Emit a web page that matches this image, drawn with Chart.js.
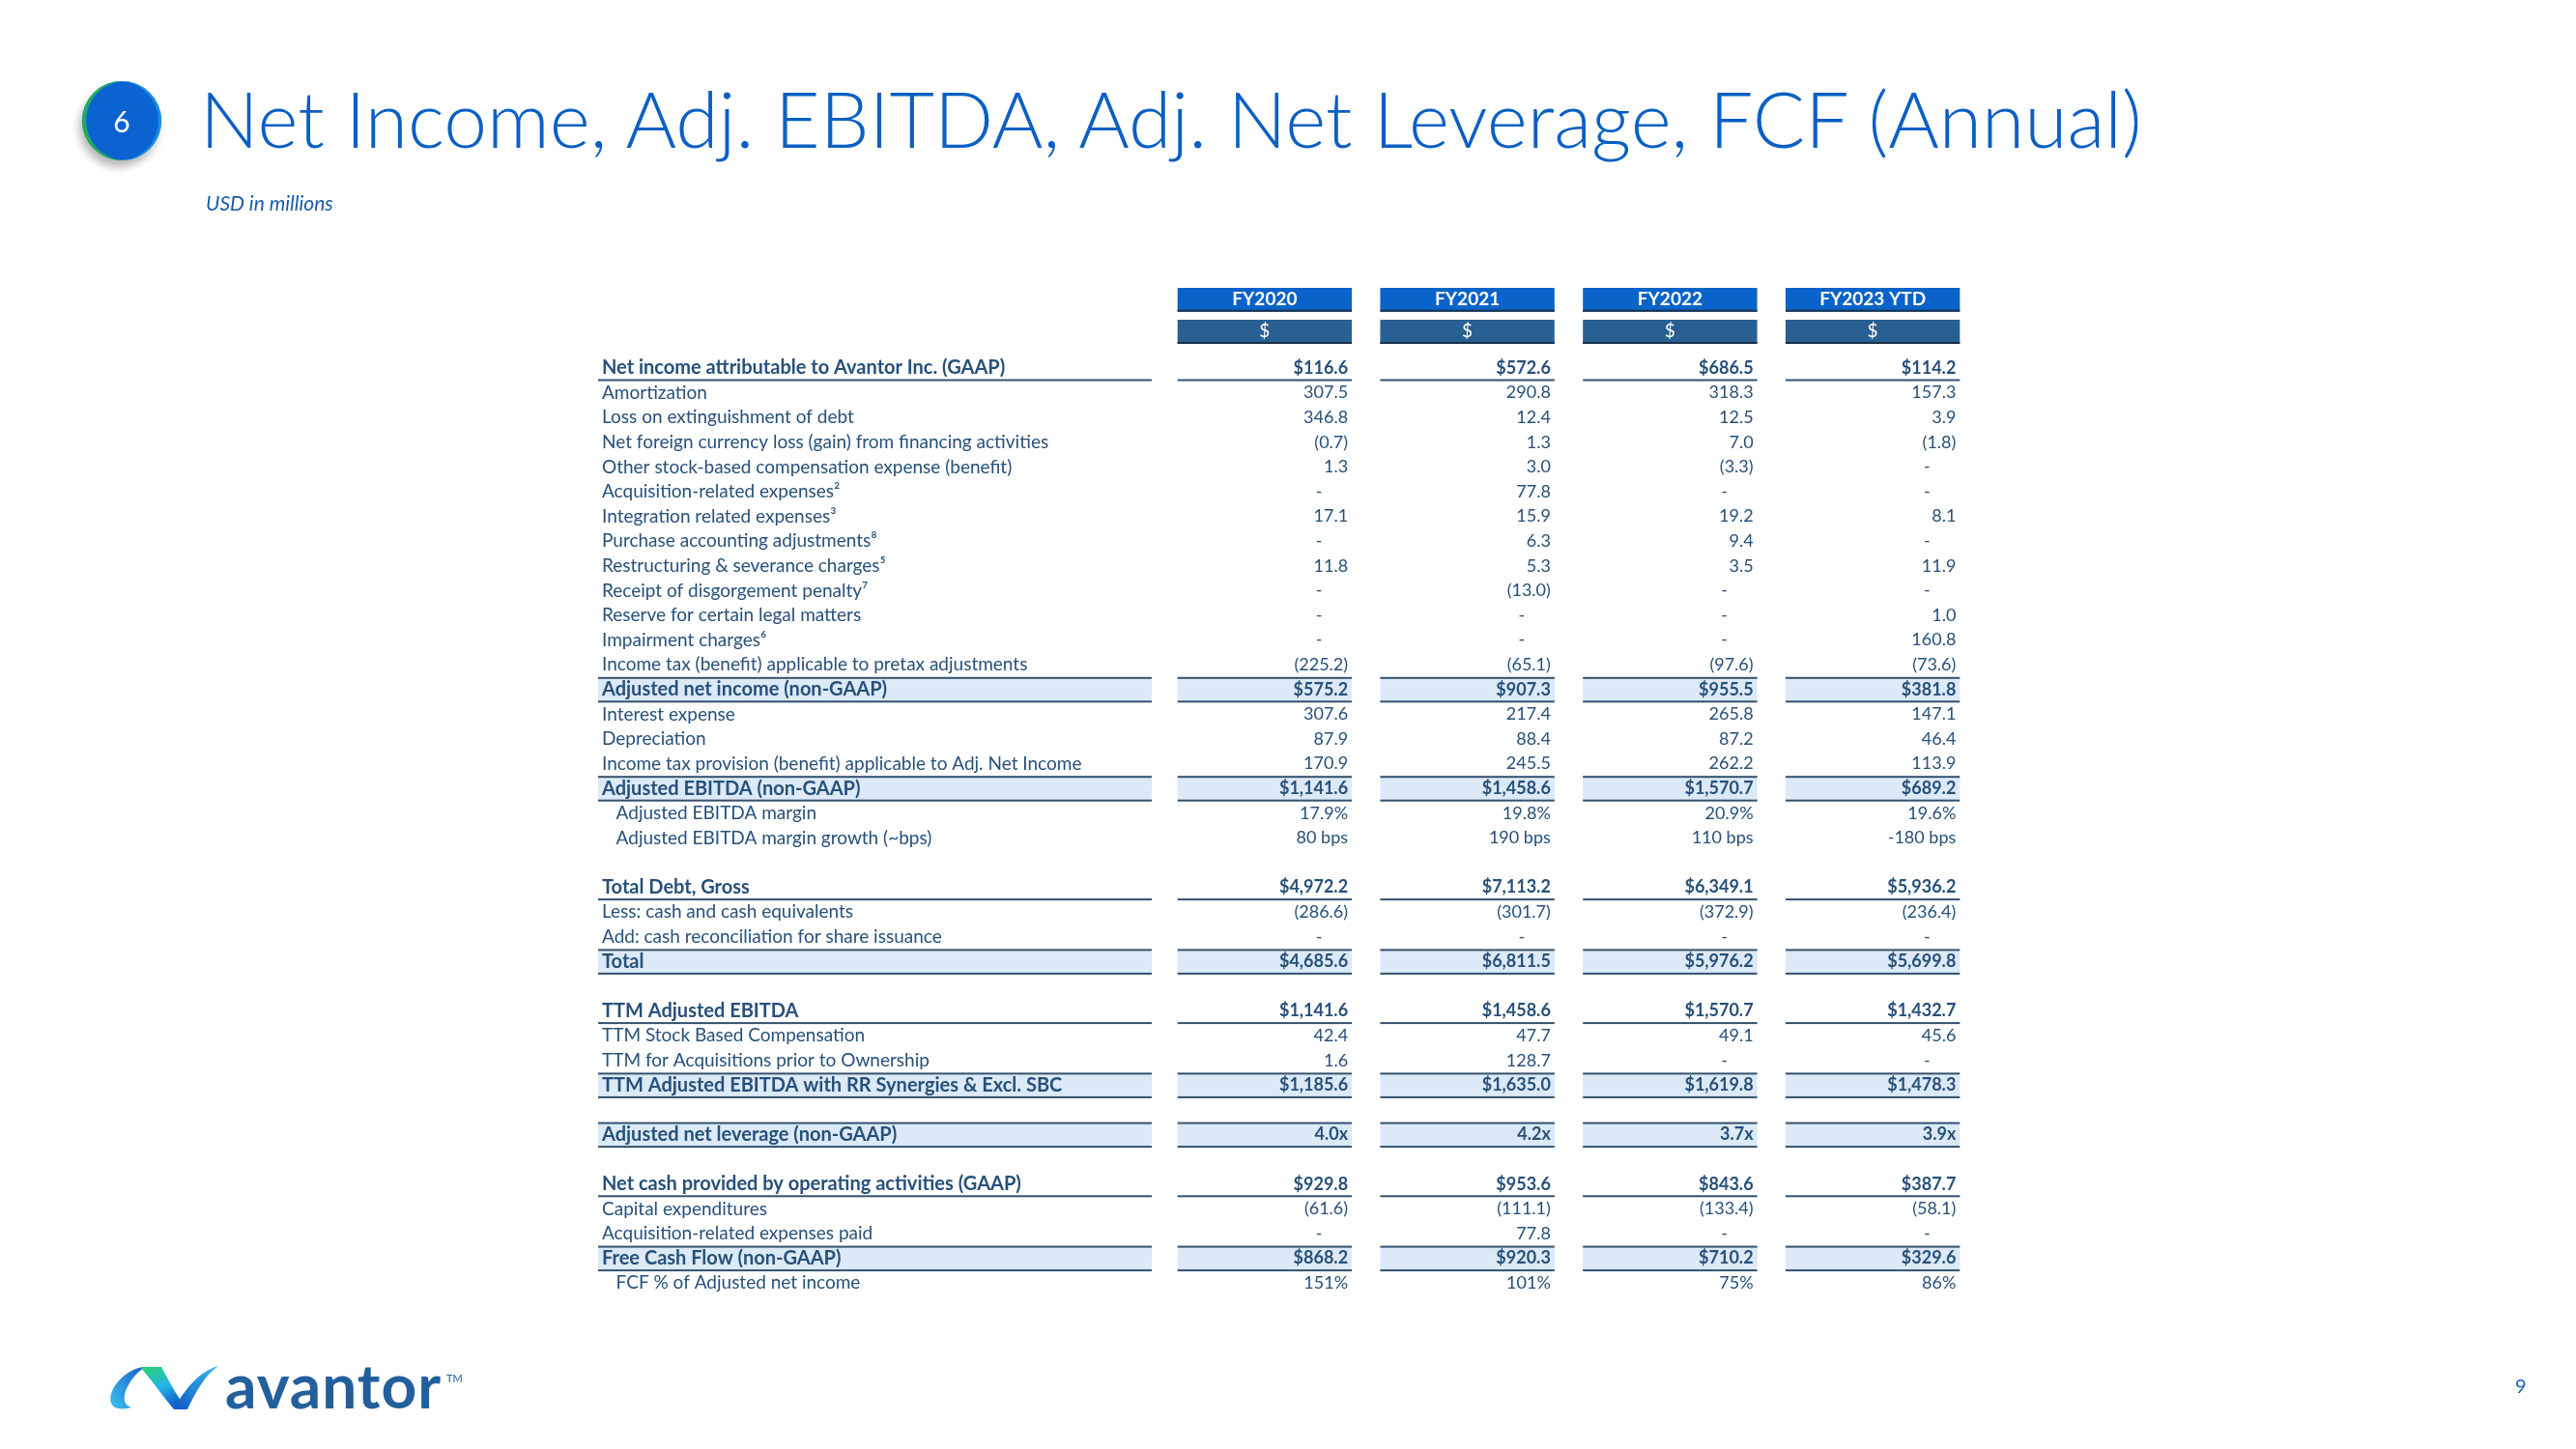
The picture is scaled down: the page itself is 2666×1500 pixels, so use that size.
<!DOCTYPE html>
<html>
<head>
<meta charset="utf-8">
<script src="https://cdn.jsdelivr.net/npm/chart.js@4.4.0/dist/chart.umd.min.js"></script>
<style>
html,body{margin:0;padding:0;background:#fff;width:2666px;height:1500px;overflow:hidden;font-family:Lato,"Open Sans",sans-serif;}
#c{position:absolute;left:0;top:0;}
.abs{position:absolute;white-space:nowrap;}
#title{left:207px;top:82px;font-size:80.4px;line-height:80px;font-weight:300;color:#0b5fc4;}
#sub{left:213px;top:199px;font-size:21px;line-height:21px;font-style:italic;color:#1a5aa8;}
#badge{left:85px;top:84px;width:82px;height:82px;border-radius:50%;background:#0b62d1;
  box-shadow:inset 4px 0 0 #1fae5a, inset -3px 0 0 #1590e0, -3px 7px 8px rgba(0,0,0,0.28);color:#fff;font-size:30px;line-height:82px;text-align:center;}
#logo{left:233px;top:1402px;font-size:64px;line-height:64px;font-weight:700;color:#235f9c;letter-spacing:1px;}
#tm{left:462px;top:1421px;font-size:11px;line-height:11px;color:#235f9c;}
#page{left:2603px;top:1424px;font-size:20px;line-height:20px;color:#1565c0;}
#icon{position:absolute;left:100px;top:1400px;}
</style>
</head>
<body>
<canvas id="c" width="2666" height="1500"></canvas>
<div id="badge" class="abs">6</div>
<div id="title" class="abs">Net Income, Adj. EBITDA, Adj. Net Leverage, FCF (Annual)</div>
<div id="sub" class="abs">USD in millions</div>
<svg id="icon" width="140" height="75" viewBox="100 1400 140 75">
  <defs>
    <linearGradient id="g1" x1="1" y1="0" x2="0" y2="1">
      <stop offset="0" stop-color="#1a5fc8"/><stop offset="1" stop-color="#3cc0f0"/>
    </linearGradient>
    <linearGradient id="g2" x1="0" y1="0" x2="0.4" y2="1">
      <stop offset="0" stop-color="#2dd06a"/><stop offset="0.55" stop-color="#22b8e6"/><stop offset="1" stop-color="#1262c9"/>
    </linearGradient>
    <linearGradient id="g3" x1="0" y1="1" x2="1" y2="0">
      <stop offset="0" stop-color="#0e58c2"/><stop offset="1" stop-color="#3cbcf2"/>
    </linearGradient>
  </defs>
  <path d="M150 1415 C136 1416 124 1426 118 1436 C112 1446 113 1456 122 1458 C127 1459 132 1458 136 1457 C129 1455 127 1449 130 1440 C134 1430 141 1421 150 1415 Z" fill="url(#g1)"/>
  <path d="M145 1415 L167 1415 C175 1430 184 1447 194 1459 L180 1459 C170 1447 158 1430 145 1415 Z" fill="url(#g2)"/>
  <path d="M180 1459 L194 1459 C203 1440 212 1424 226 1414 C208 1419 192 1436 180 1459 Z" fill="url(#g3)"/>
</svg>
<div id="logo" class="abs">avantor</div>
<div id="tm" class="abs">TM</div>
<div id="page" class="abs">9</div>
<script>
// ---------- data ----------
const years = ['FY2020', 'FY2021', 'FY2022', 'FY2023 YTD'];
const currencyRow = ['$', '$', '$', '$'];
const rowLabels = [
  'Net income attributable to Avantor Inc. (GAAP)',
  'Amortization',
  'Loss on extinguishment of debt',
  'Net foreign currency loss (gain) from financing activities',
  'Other stock-based compensation expense (benefit)',
  'Acquisition-related expenses\u00B2',
  'Integration related expenses\u00B3',
  'Purchase accounting adjustments\u2078',
  'Restructuring & severance charges\u2075',
  'Receipt of disgorgement penalty\u2077',
  'Reserve for certain legal matters',
  'Impairment charges\u2076',
  'Income tax (benefit) applicable to pretax adjustments',
  'Adjusted net income (non-GAAP)',
  'Interest expense',
  'Depreciation',
  'Income tax provision (benefit) applicable to Adj. Net Income',
  'Adjusted EBITDA (non-GAAP)',
  '   Adjusted EBITDA margin',
  '   Adjusted EBITDA margin growth (~bps)',
  '',
  'Total Debt, Gross',
  'Less: cash and cash equivalents',
  'Add: cash reconciliation for share issuance',
  'Total',
  '',
  'TTM Adjusted EBITDA',
  'TTM Stock Based Compensation',
  'TTM for Acquisitions prior to Ownership',
  'TTM Adjusted EBITDA with RR Synergies & Excl. SBC',
  '',
  'Adjusted net leverage (non-GAAP)',
  '',
  'Net cash provided by operating activities (GAAP)',
  'Capital expenditures',
  'Acquisition-related expenses paid',
  'Free Cash Flow (non-GAAP)',
  '   FCF % of Adjusted net income'
];
const rowFormat = ['usd','num','num','num','num','num','num','num','num','num','num','num','num','usd',
  'num','num','num','usd','pct1','bps','', 'usd','num','num','usd','', 'usd','num','num','usd','', 'x','',
  'usd','num','num','usd','pct0'];
const fy2020 = [116.6,307.5,346.8,-0.7,1.3,null,17.1,null,11.8,null,null,null,-225.2,575.2,
  307.6,87.9,170.9,1141.6,17.9,80,null, 4972.2,-286.6,null,4685.6,null, 1141.6,42.4,1.6,1185.6,null, 4.0,null,
  929.8,-61.6,null,868.2,151];
const fy2021 = [572.6,290.8,12.4,1.3,3.0,77.8,15.9,6.3,5.3,-13.0,null,null,-65.1,907.3,
  217.4,88.4,245.5,1458.6,19.8,190,null, 7113.2,-301.7,null,6811.5,null, 1458.6,47.7,128.7,1635.0,null, 4.2,null,
  953.6,-111.1,77.8,920.3,101];
const fy2022 = [686.5,318.3,12.5,7.0,-3.3,null,19.2,9.4,3.5,null,null,null,-97.6,955.5,
  265.8,87.2,262.2,1570.7,20.9,110,null, 6349.1,-372.9,null,5976.2,null, 1570.7,49.1,null,1619.8,null, 3.7,null,
  843.6,-133.4,null,710.2,75];
const fy2023 = [114.2,157.3,3.9,-1.8,null,null,8.1,null,11.9,null,1.0,160.8,-73.6,381.8,
  147.1,46.4,113.9,689.2,19.6,-180,null, 5936.2,-236.4,null,5699.8,null, 1432.7,45.6,null,1478.3,null, 3.9,null,
  387.7,-58.1,null,329.6,86];
const seriesValues = [fy2020, fy2021, fy2022, fy2023];

// ---------- row styles ----------
const boldRows = [0,13,17,21,24,26,29,31,33,36];
const highlightRows = [13,17,24,29,31,36];
const underlineRows = [0,21,26,33];

const TEXT = '#27507a';
const FONT = 'Lato, "Open Sans", sans-serif';
const COLW = 0.86;

function fmt(v, f) {
  if (v === null || v === undefined) return '-';
  const a = Math.abs(v);
  const n1 = a.toLocaleString('en-US', {minimumFractionDigits: 1, maximumFractionDigits: 1});
  switch (f) {
    case 'usd': return (v < 0 ? '(' : '') + '$' + n1 + (v < 0 ? ')' : '');
    case 'num': return v < 0 ? '(' + n1 + ')' : n1;
    case 'pct1': return v.toFixed(1) + '%';
    case 'pct0': return v.toFixed(0) + '%';
    case 'bps': return v.toFixed(0) + ' bps';
    case 'x': return v.toFixed(1) + 'x';
  }
  return String(v);
}

const tablePlugin = {
  id: 'tablePlugin',
  beforeDraw(chart) {
    const {ctx, chartArea: ca, scales: {x, y}} = chart;
    const pitch = x.getPixelForValue(1) - x.getPixelForValue(0);
    const colW = pitch * COLW;
    const labL = y.left - 4, labR = ca.left - 12;
    const spans = [[labL, labR]].concat(years.map((_, j) => {
      const c = x.getPixelForValue(j); return [c - colW / 2, c + colW / 2];
    }));
    ctx.save();
    // header boxes
    years.forEach((_, j) => {
      const c = x.getPixelForValue(j);
      const l = c - colW / 2;
      ctx.fillStyle = '#0a63c9';
      ctx.fillRect(l, ca.top - 70.2, colW, 24.7);
      ctx.fillStyle = '#1c3148';
      ctx.fillRect(l, ca.top - 47.5, colW, 2);
      ctx.fillStyle = '#286093';
      ctx.fillRect(l, ca.top - 37.2, colW, 25);
      ctx.fillStyle = '#1a3048';
      ctx.fillRect(l, ca.top - 14.2, colW, 2);
      ctx.fillStyle = '#ffffff';
      ctx.font = '19px ' + FONT;
      ctx.textAlign = 'center';
      ctx.textBaseline = 'middle';
      ctx.fillText(currencyRow[j], c, ca.top - 25);
    });
    // highlight rows
    highlightRows.forEach(i => {
      const c = y.getPixelForValue(i);
      spans.forEach(([l, r]) => {
        ctx.fillStyle = '#dce9f6';
        ctx.fillRect(l, c - 12, r - l, 24.5);
        ctx.fillStyle = '#34516e';
        ctx.fillRect(l, c - 13, r - l, 2);
        ctx.fillRect(l, c + 11.5, r - l, 2);
      });
    });
    // underlines
    underlineRows.forEach(i => {
      const c = y.getPixelForValue(i);
      spans.forEach(([l, r]) => {
        ctx.fillStyle = '#34516e';
        ctx.fillRect(l, c + 11.5, r - l, 2);
      });
    });
    ctx.restore();
  },
  afterDatasetsDraw(chart) {
    const {ctx, scales: {x}} = chart;
    const pitch = x.getPixelForValue(1) - x.getPixelForValue(0);
    const colW = pitch * COLW;
    ctx.save();
    ctx.fillStyle = TEXT;
    ctx.textBaseline = 'middle';
    chart.data.datasets.forEach((ds, d) => {
      const meta = chart.getDatasetMeta(d);
      meta.data.forEach((pt, k) => {
        const raw = ds.data[k];
        const right = pt.x + colW / 2;
        const bold = boldRows.includes(raw.r);
        ctx.font = (bold ? 'bold ' : '') + '18px ' + FONT;
        if (raw.v === null) {
          ctx.textAlign = 'center';
          ctx.fillText('-', right - 34, pt.y);
        } else {
          ctx.textAlign = 'right';
          ctx.fillText(fmt(raw.v, rowFormat[raw.r]), right - 4, pt.y);
        }
      });
    });
    ctx.restore();
  }
};

new Chart(document.getElementById('c'), {
  type: 'line',
  data: {
    labels: years,
    datasets: seriesValues.map((vals, j) => ({
      label: years[j],
      data: rowLabels.map((lab, i) => ({x: years[j], y: lab, r: i, v: vals[i]})).filter(p => rowFormat[p.r] !== ''),
      showLine: false,
      pointRadius: 0,
      pointHoverRadius: 0,
      borderWidth: 0
    }))
  },
  options: {
    responsive: false,
    animation: false,
    devicePixelRatio: 1,
    events: [],
    layout: {padding: {left: 623, right: 623, top: 290, bottom: 159}},
    plugins: {legend: {display: false}, tooltip: {enabled: false}},
    scales: {
      x: {
        type: 'category', position: 'top', offset: true,
        grid: {display: false, drawTicks: false}, border: {display: false},
        ticks: {color: '#ffffff', font: {family: FONT, size: 19, weight: 'bold'}, padding: 46.5, autoSkip: false, maxRotation: 0, minRotation: 0},
        afterFit: s => { s.height = 78.2; }
      },
      y: {
        type: 'category', labels: rowLabels, offset: true,
        grid: {display: false, drawTicks: false}, border: {display: false},
        ticks: {
          crossAlign: 'far', autoSkip: false, padding: 0, color: TEXT,
          font: ctx => boldRows.includes(ctx.index)
            ? {family: FONT, size: 20, weight: 'bold'}
            : {family: FONT, size: 19, weight: 'normal'}
        },
        afterFit: s => { s.width = 581; }
      }
    }
  },
  plugins: [tablePlugin]
});
</script>
</body>
</html>
